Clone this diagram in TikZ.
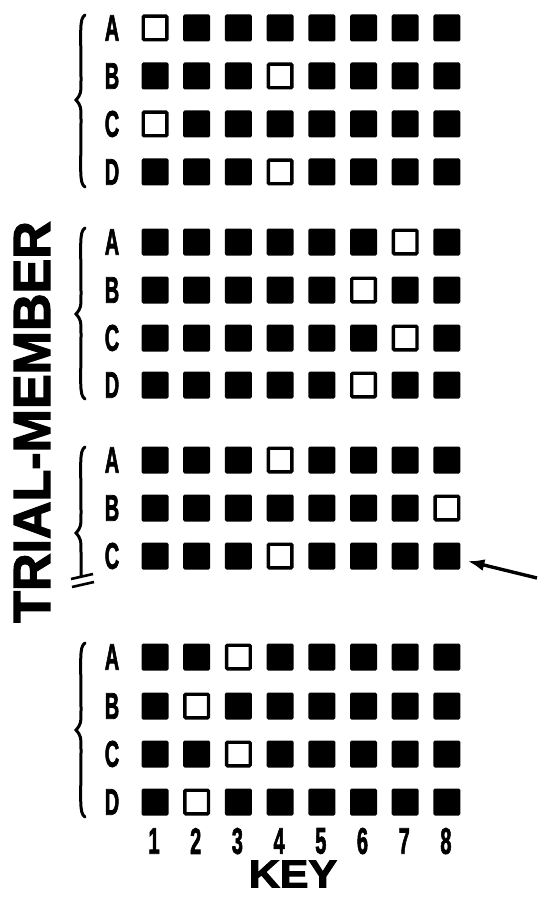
\documentclass[tikz,border=0pt]{standalone}
\usepackage{fontspec}
\setmainfont{Liberation Sans}
\newfontfamily\heavyfont[FakeBold=2.5]{Liberation Sans}
\usepackage{graphicx}
\usepackage{tikz}
\usetikzlibrary{arrows.meta}
\newcommand{\narrow}[1]{\scalebox{0.54}[1]{#1}}

\begin{document}
\begin{tikzpicture}[x=1pt,y=-1pt,
    keybox/.style={fill=black,minimum size=27pt,inner sep=0pt,rounded corners=1.5pt},
    openbox/.style={draw=black,fill=white,line width=3.4pt,minimum size=23.6pt,inner sep=0pt,rounded corners=1pt},
    member/.style={font=\fontsize{37}{37}\selectfont\heavyfont\bfseries,inner sep=0pt},
    bracket/.style={line width=3pt,line cap=round}]
        \useasboundingbox (0,0) rectangle (539,904);
        % member rows: group/member/y/open key
        \foreach \g/\r/\yy/\open in {1/A/28/1, 1/B/76/4, 1/C/124/1, 1/D/172/4,
                                      2/A/242/7, 2/B/290/6, 2/C/338/7, 2/D/385/6,
                                      3/A/460/4, 3/B/508/8, 3/C/556/4,
                                      4/A/657/3, 4/B/706/2, 4/C/754/3, 4/D/802/2}{
            \node[member] (g\g-\r-lab) at (112,\yy) {\narrow{\r}};
            \foreach \c in {1,...,8}{
                \def\boxstyle{keybox}
                \ifnum\c=\open \def\boxstyle{openbox}\fi
                \node[\boxstyle] (g\g-\r-\c) at (113.3+41.7*\c,\yy) {};
            }
        }
        % key numbers
        \foreach \c in {1,...,8}
            \node[member] (num-\c) at (112.3+41.7*\c,841) {\narrow{\c}};
        \node[font=\fontsize{39}{39}\selectfont\heavyfont\bfseries,inner sep=0pt] (key) at (293,874) {\scalebox{1.1}[1]{KEY}};
        \node[rotate=90,font=\fontsize{52}{52}\selectfont\heavyfont\bfseries,inner sep=0pt] (trial) at (32,422) {TRIAL-MEMBER};
        % braces round the trials
        \foreach \top/\mid/\bot in {15/100/187, 228/314/399, 643/730/817}
            \draw[bracket] (85,\top) .. controls (79,\top+4) and (81,\top+15) .. (81,\mid-22)
                .. controls (81,\mid-6) .. (76,\mid) .. controls (81,\mid+6) .. (81,\mid+22)
                .. controls (81,\bot-15) and (79,\bot-4) .. (85,\bot);
        % broken brace of trial 3
        \draw[bracket] (85,447) .. controls (79,451) and (81,462) .. (81,511)
            .. controls (81,527) .. (76,533) .. controls (81,539) .. (81,555)
            -- (81,576);
        \draw[line width=2.6pt] (71,579) -- (93,574);
        \draw[line width=2.6pt] (72,587) -- (94,582);
        % arrow to the last key
        \coordinate (tail) at (537,578);
        \draw[-{Latex[length=17pt,width=12pt]},line width=3.4pt,shorten >=7pt] (tail) -- (g3-C-8);
\end{tikzpicture}
\end{document}
